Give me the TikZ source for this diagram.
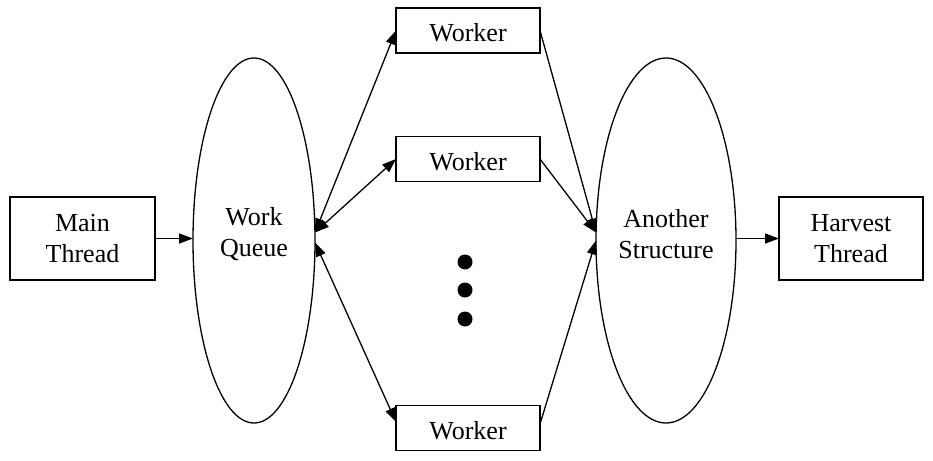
\documentclass[tikz,border=0pt]{standalone}
\usepackage{fontspec}
\setmainfont{Liberation Serif}
\usetikzlibrary{shapes.geometric,arrows.meta}
\begin{document}
\begin{tikzpicture}[x=1pt,y=-1pt,
  lbl/.style={align=center, font=\fontsize{26}{31}\selectfont},
  box/.style={lbl, draw, line width=1.3pt, inner sep=0pt, outer sep=0pt},
  wbox/.style={draw, line width=1.3pt, inner sep=0pt, outer sep=0pt, minimum width=144pt, minimum height=45pt, label={[lbl, yshift=-2.5pt]center:Worker}},
  oval/.style={draw, ellipse, line width=1.3pt, inner sep=0pt, outer sep=0pt, minimum height=365pt},
  arr/.style={line width=1.3pt, -{Triangle[length=14pt,width=10pt]}},
  darr/.style={line width=1.3pt, {Triangle[length=14pt,width=10pt]}-{Triangle[length=14pt,width=10pt]}},
  bigdot/.style={circle, fill, inner sep=0pt, minimum size=15pt}]
\useasboundingbox (0,0) rectangle (933,460);
\node[box, minimum width=145pt, minimum height=83pt] (main) at (82.5,238.5) {Main\\Thread};
\node[oval, minimum width=122pt, label={[lbl, yshift=6pt]center:Work\\Queue}] (wq) at (254,240.5) {};
\node[wbox] (w1) at (468,30.5) {};
\node[wbox] (w2) at (468,159) {};
\node[wbox] (w3) at (468,428) {};
\node[bigdot] (d1) at (465,262) {};
\node[bigdot] (d2) at (465,290) {};
\node[bigdot] (d3) at (465,319) {};
\node[oval, minimum width=140pt, label={[lbl, yshift=6pt]center:Another\\Structure}] (as) at (666,240.5) {};
\node[box, minimum width=144pt, minimum height=83pt] (hv) at (851,238.5) {Harvest\\Thread};
\draw[arr] (main.east) -- (main.east -| wq.west);
\draw[darr] ([yshift=8pt]wq.east) -- (w1.west);
\draw[darr] ([yshift=8pt]wq.east) -- (w2.west);
\draw[darr] ([yshift=-2pt]wq.east) -- ([yshift=6pt]w3.west);
\draw[arr] (w1.east) -- ([yshift=8pt]as.west);
\draw[arr] (w2.east) -- ([yshift=8pt]as.west);
\draw[arr] ([yshift=4pt]w3.east) -- (as.west);
\draw[arr] (as.east |- hv.west) -- (hv.west);
\end{tikzpicture}
\end{document}
